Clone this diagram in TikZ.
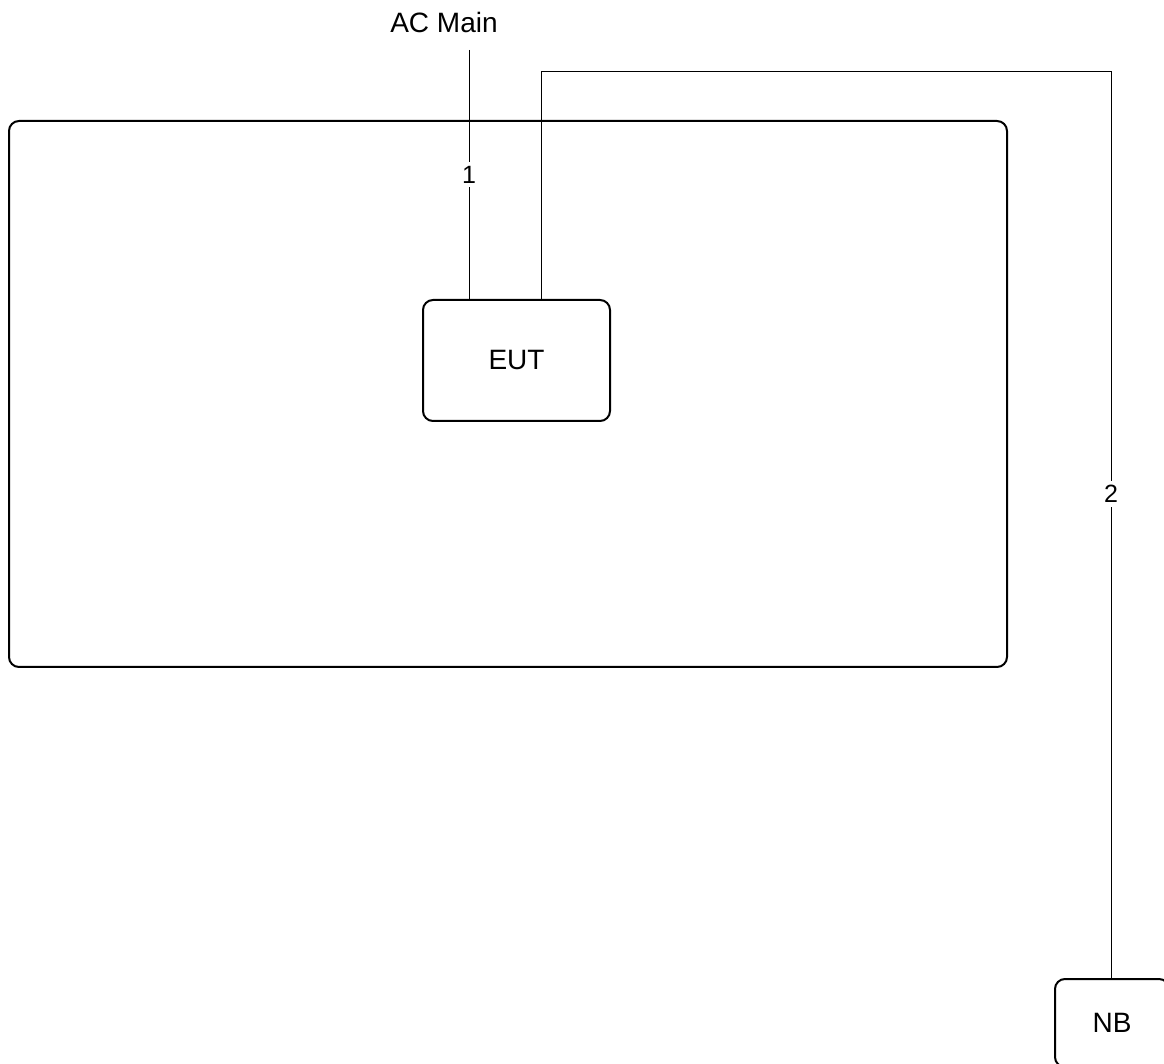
\documentclass[tikz,border=0pt]{standalone}
\usepackage{fontspec}
\setmainfont{Liberation Sans}
\usetikzlibrary{positioning}
\tikzset{
  unitbox/.style={draw, line width=1pt, rounded corners=5pt, align=center, font=\fontsize{14}{16}\selectfont},
  cable/.style={line width=0.5pt},
  cablelabel/.style={fill=white, inner sep=2pt, font=\fontsize{12.5}{14}\selectfont}
}
\begin{document}
\begin{tikzpicture}[x=0.5pt, y=-0.5pt]
                \useasboundingbox (0,0) rectangle (1164,1064);
                \clip (0,0) rectangle (1164,1064);
                \draw[line width=1pt, rounded corners=5pt] (9,121) rectangle (1007,667);
                \node[unitbox, minimum width=93.5pt, minimum height=60.5pt] (eut) at (516.5,360.5) {EUT};
                \node[unitbox, minimum width=57pt, minimum height=44pt] (nb) at (1112,1023) {NB};
                \node[font=\fontsize{14}{16}\selectfont] (acmain) at (444,22) {AC Main};
                \coordinate (ac) at (469,50);
                \coordinate (turn1) at (541,72);
                \coordinate (turn2) at (1111,72);
                \draw[cable] (ac) -- (ac |- eut.north) node[cablelabel, pos=0.5] {1};
                \draw[cable] (turn1 |- eut.north) -- (turn1) -- (turn2) -- (turn2 |- nb.north)
                    node[cablelabel, pos=0.466] {2};
            \end{tikzpicture}
\end{document}
